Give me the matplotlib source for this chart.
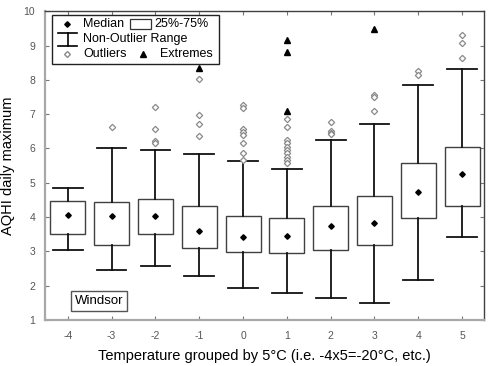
import matplotlib.pyplot as plt
from matplotlib.patches import Rectangle
from matplotlib.lines import Line2D

plt.rcParams['font.family'] = ['Liberation Sans', 'DejaVu Sans']

# temperature groups (x 5 degC)
groups = [-4, -3, -2, -1, 0, 1, 2, 3, 4, 5]
q1 = [3.51, 3.17, 3.50, 3.09, 2.98, 2.96, 3.04, 3.17, 3.96, 4.32]
q3 = [4.46, 4.43, 4.53, 4.31, 4.04, 3.96, 4.31, 4.62, 5.57, 6.03]
medians = [4.06, 4.04, 4.02, 3.59, 3.42, 3.45, 3.73, 3.84, 4.72, 5.26]
whis_lo = [3.04, 2.45, 2.56, 2.29, 1.94, 1.79, 1.64, 1.49, 2.17, 3.42]
whis_hi = [4.85, 6.00, 5.97, 5.84, 5.63, 5.41, 6.25, 6.70, 7.85, 8.32]

# outliers (open diamonds)
out_x = [-3,
         -2, -2, -2, -2,
         -1, -1, -1, -1,
         0, 0, 0, 0, 0, 0, 0, 0,
         1, 1, 1, 1, 1, 1, 1, 1, 1, 1,
         2, 2, 2, 2,
         3, 3, 3,
         4, 4,
         5, 5, 5]
out_y = [6.62,
         7.21, 6.58, 6.23, 6.17,
         8.03, 6.97, 6.70, 6.37,
         7.27, 7.19, 6.56, 6.47, 6.39, 6.17, 5.88, 5.66,
         6.85, 6.64, 6.25, 6.17, 6.05, 5.96, 5.86, 5.76, 5.66, 5.57,
         6.76, 6.52, 6.46, 6.41,
         7.55, 7.49, 7.10,
         8.27, 8.15,
         9.32, 9.07, 8.63]

# extremes (filled triangles)
ext_x = [-1, 1, 1, 1, 3]
ext_y = [8.36, 9.17, 8.81, 7.09, 9.48]

fig = plt.figure(figsize=(5, 3.66), dpi=100)
ax = fig.add_axes([0.09, 0.126, 0.878, 0.843])

stats = []
for i in range(len(groups)):
    stats.append({'med': medians[i], 'q1': q1[i], 'q3': q3[i],
                  'whislo': whis_lo[i], 'whishi': whis_hi[i], 'fliers': []})

ax.bxp(stats, positions=groups, widths=0.8, capwidths=0.68,
       showfliers=False, patch_artist=True,
       boxprops=dict(facecolor='white', edgecolor='#404040', linewidth=1.0),
       whiskerprops=dict(color='#111111', linewidth=1.3),
       capprops=dict(color='#111111', linewidth=1.3),
       medianprops=dict(linestyle='none'))

ax.plot(groups, medians, linestyle='none', marker='D', markersize=2.8,
        color='black', zorder=4)
ax.plot(out_x, out_y, linestyle='none', marker='D', markersize=3.2,
        markerfacecolor='white', markeredgecolor='#8a8a8a',
        markeredgewidth=0.9, zorder=4)
ax.plot(ext_x, ext_y, linestyle='none', marker='^', markersize=4.2,
        color='black', zorder=4)

ax.set_xlim(-4.52, 5.5)
ax.set_ylim(1, 10)
ax.set_xticks(groups)
ax.set_yticks(range(1, 11))
ax.tick_params(direction='in', top=True, right=True, length=3,
               labelsize=7.5, labelcolor='#555555', color='#777777')
ax.tick_params(axis='x', pad=8)
ax.tick_params(axis='y', pad=7)

for side in ['left', 'bottom']:
    ax.spines[side].set_color('#a8a8a8')
    ax.spines[side].set_linewidth(1.6)
for side in ['top', 'right']:
    ax.spines[side].set_color('#404040')
    ax.spines[side].set_linewidth(1.0)

ax.set_ylabel('AQHI daily maximum', fontsize=10.5, labelpad=6)
ax.set_xlabel('Temperature grouped by 5°C (i.e. -4x5=-20°C, etc.)',
              fontsize=10.5, labelpad=6)

# custom legend box
tr = ax.transAxes
ax.add_patch(Rectangle((0.016, 0.830), 0.380, 0.159, transform=tr,
                       facecolor='white', edgecolor='#222222',
                       linewidth=1.0, zorder=5))
fs = 9
ax.plot([0.049], [0.958], marker='D', markersize=2.8, color='black',
        transform=tr, zorder=6, clip_on=False)
ax.text(0.087, 0.958, 'Median', transform=tr, fontsize=fs, va='center', zorder=6)
ax.add_patch(Rectangle((0.194, 0.942), 0.047, 0.033, transform=tr,
                       facecolor='white', edgecolor='#333333',
                       linewidth=0.9, zorder=6))
ax.text(0.250, 0.958, '25%-75%', transform=tr, fontsize=fs, va='center', zorder=6)
for xs, ys in [([0.030, 0.074], [0.929, 0.929]),
               ([0.030, 0.074], [0.889, 0.889]),
               ([0.052, 0.052], [0.889, 0.929])]:
    ax.add_line(Line2D(xs, ys, transform=tr, color='black', linewidth=1.2,
                       zorder=6))
ax.text(0.086, 0.909, 'Non-Outlier Range', transform=tr, fontsize=fs,
        va='center', zorder=6)
ax.plot([0.049], [0.861], marker='D', markersize=3.0, markerfacecolor='white',
        markeredgecolor='#8a8a8a', transform=tr, zorder=6, clip_on=False)
ax.text(0.087, 0.861, 'Outliers', transform=tr, fontsize=fs, va='center', zorder=6)
ax.plot([0.223], [0.861], marker='^', markersize=4.0, color='black',
        transform=tr, zorder=6, clip_on=False)
ax.text(0.262, 0.861, 'Extremes', transform=tr, fontsize=fs, va='center', zorder=6)

ax.text(0.123, 0.060, 'Windsor', transform=tr, fontsize=9.5, ha='center',
        va='center', bbox=dict(boxstyle='square,pad=0.3', facecolor='white',
                               edgecolor='#555555', linewidth=1.0))

fig.savefig('out.png', dpi=100)
